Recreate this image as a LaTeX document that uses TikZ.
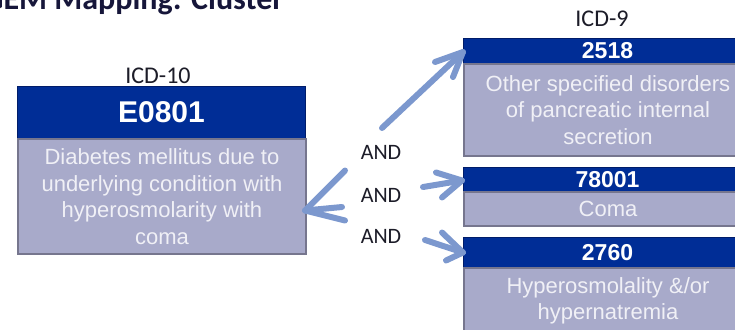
\documentclass[tikz,border=0pt]{standalone}
\usepackage{fontspec}
\setmainfont{Liberation Sans}
\newfontfamily\labelfont{Carlito}
\usetikzlibrary{calc}

\definecolor{hdrblue}{RGB}{0,45,150}
\definecolor{hdrline}{RGB}{0,28,105}
\definecolor{bodyfill}{RGB}{168,170,202}
\definecolor{bodyline}{RGB}{118,118,142}
\definecolor{bodytext}{RGB}{240,240,246}
\definecolor{arrowblue}{RGB}{124,152,206}
\definecolor{labeltext}{RGB}{28,28,40}
\definecolor{titletext}{RGB}{22,22,58}

\tikzset{
  hdr/.style={draw=hdrline, fill=hdrblue, line width=1pt, inner sep=0pt,
    anchor=north west, minimum width=288pt, text=white},
  body/.style={draw=bodyline, fill=bodyfill, line width=2pt, inner sep=0pt,
    anchor=north west, minimum width=288pt, text=bodytext, align=center,
    font=\fontsize{22}{26.6}\selectfont},
  codelabel/.style={anchor=base, inner sep=0pt, text=labeltext,
    font=\labelfont\fontsize{24}{28}\selectfont},
  andlabel/.style={anchor=base, inner sep=0pt, text=labeltext,
    font=\labelfont\fontsize{22}{26}\selectfont},
  conn/.style={draw=arrowblue, line width=6pt, line cap=round, line join=round}
}

\begin{document}
\begin{tikzpicture}[x=1pt, y=-1pt]
\useasboundingbox (0,0) rectangle (735,329);
\clip (0,0) rectangle (735,329);

% heading
\node[anchor=base west, inner sep=0pt, text=titletext,
  font=\labelfont\bfseries\fontsize{32}{36}\selectfont] (title) at (-17,10)
  {GEM Mapping: Cluster};

% ICD-10 source code
\node[codelabel] (icd10) at (158,83) {ICD-10};
\node[hdr, minimum height=52pt, font=\bfseries\fontsize{30}{34}\selectfont]
  (h0) at (17,86) {E0801};
\node[body, minimum height=115pt] (b0) at (17,138)
  {Diabetes mellitus due to\\underlying condition with\\hyperosmolarity with\\coma};

% ICD-9 target codes
\node[codelabel] (icd9) at (602,27) {ICD-9};
\node[hdr, minimum height=25pt, font=\bfseries\fontsize{23}{26}\selectfont]
  (h1) at (463,38) {2518};
\node[body, minimum height=92pt] (b1) at (463,63)
  {Other specified disorders\\of pancreatic internal\\secretion};

\node[hdr, minimum height=24pt, font=\bfseries\fontsize{23}{26}\selectfont]
  (h2) at (463,167) {78001};
\node[body, minimum height=34pt] (b2) at (463,191) {Coma};

\node[hdr, minimum height=30pt, font=\bfseries\fontsize{23}{26}\selectfont]
  (h3) at (463,237) {2760};
\node[body, minimum height=66pt] (b3) at (463,267)
  {Hyperosmolality \&/or\\hypernatremia};

% AND labels
\node[andlabel] (and1) at (381,159) {AND};
\node[andlabel] (and2) at (381,202) {AND};
\node[andlabel] (and3) at (381,243) {AND};

% arrow ends
\coordinate (t0) at ($(b0.east)+(-2,14)$);
\coordinate (s0) at (342,207);
\coordinate (t1) at ($(h1.west)+(0,1)$);
\coordinate (s1) at (382,128);
\coordinate (t2) at ($(h2.west)+(-1,1)$);
\coordinate (s2) at (423,187);
\coordinate (t3) at ($(h3.west)+(0,0)$);
\coordinate (s3) at (425,240);

% connectors with open barbs
\draw[conn] (s0) -- (t0);
\draw[conn] ($(t0)+(40,-40)$) -- (t0) -- ($(t0)+(40,10)$);

\draw[conn] (s1) -- (t1);
\draw[conn] ($(t1)+(-28,10)$) -- (t1) -- ($(t1)+(-10,25)$);

\draw[conn] (s2) -- (t2);
\draw[conn] ($(t2)+(-26,-8)$) -- (t2) -- ($(t2)+(-20,17)$);

\draw[conn] (s3) -- (t3);
\draw[conn] ($(t3)+(-21,-20)$) -- (t3) -- ($(t3)+(-17,8)$);
\end{tikzpicture}
\end{document}
